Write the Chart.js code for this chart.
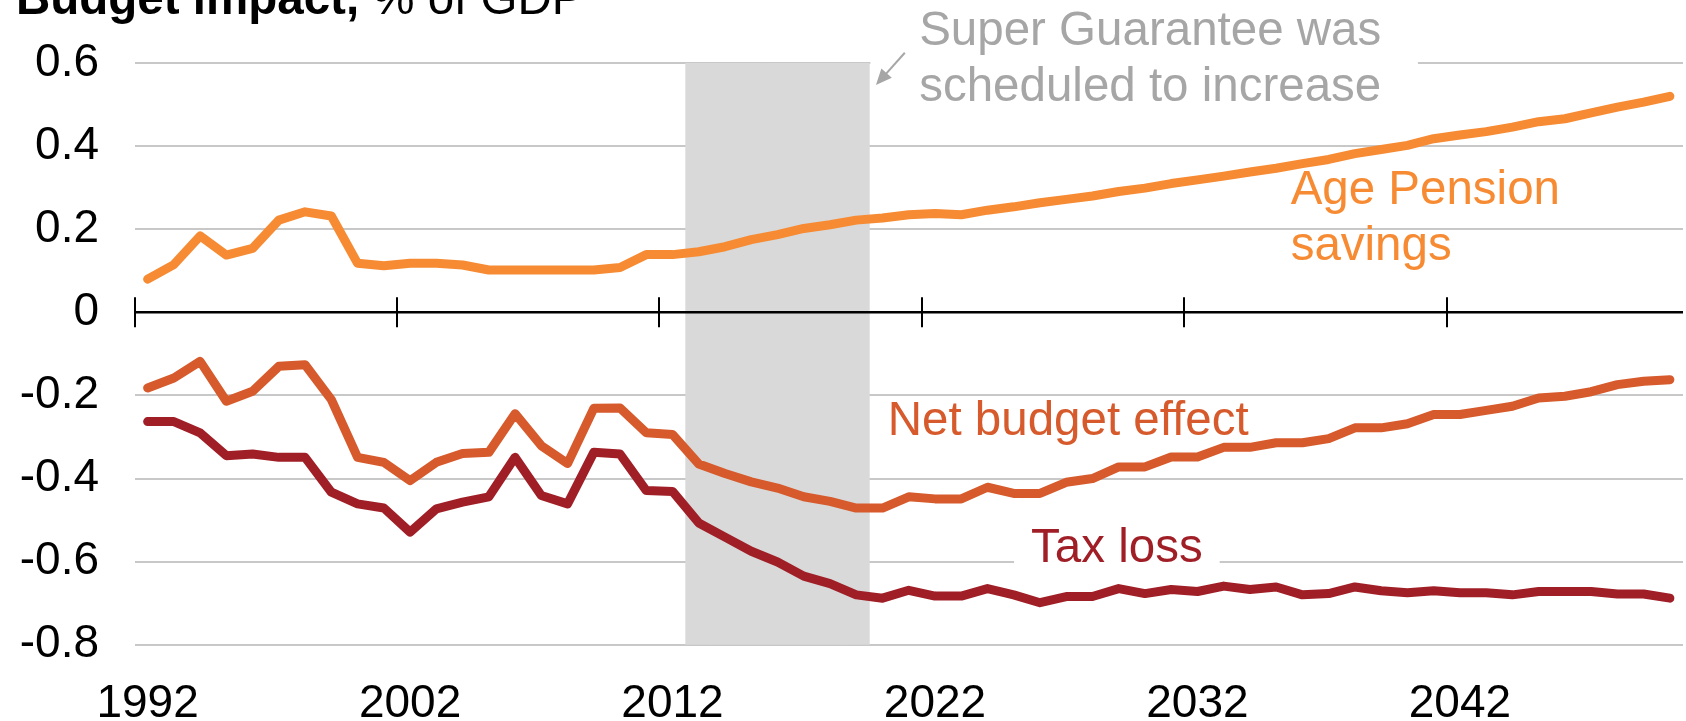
<!DOCTYPE html>
<html>
<head>
<meta charset="utf-8">
<title>Budget impact</title>
<script src="https://cdn.jsdelivr.net/npm/chart.js@4/dist/chart.umd.min.js"></script>
<style>
  html, body { margin: 0; padding: 0; background: #fff; }
  #wrap { width: 1686px; height: 721px; }
</style>
</head>
<body>
<div id="wrap"><canvas id="chart" width="1686" height="721"></canvas></div>
<script>
const years = [];
for (let yr = 1992; yr <= 2050; yr++) years.push(yr);

const xTickLabels = [1992, 2002, 2012, 2022, 2032, 2042];
const yTicks = [0.6, 0.4, 0.2, 0, -0.2, -0.4, -0.6, -0.8];
const shadedYears = [2013, 2014, 2015, 2016, 2017, 2018, 2019];

const agePension = [
  0.080, 0.115, 0.184, 0.138, 0.154, 0.222, 0.242, 0.232, 0.118, 0.112,
  0.118, 0.118, 0.114, 0.102, 0.102, 0.102, 0.102, 0.102, 0.108, 0.139,
  0.139, 0.146, 0.158, 0.175, 0.187, 0.202, 0.211, 0.222, 0.227, 0.235,
  0.238, 0.235, 0.246, 0.254, 0.264, 0.272, 0.280, 0.291, 0.299, 0.310,
  0.319, 0.328, 0.338, 0.347, 0.358, 0.368, 0.382, 0.392, 0.402, 0.418,
  0.427, 0.435, 0.446, 0.459, 0.466, 0.480, 0.494, 0.506, 0.520
];

const netBudget = [
  -0.182, -0.158, -0.118, -0.214, -0.190, -0.130, -0.126, -0.210, -0.349, -0.361,
  -0.405, -0.361, -0.340, -0.337, -0.244, -0.321, -0.364, -0.231, -0.230, -0.290,
  -0.294, -0.365, -0.388, -0.408, -0.423, -0.444, -0.455, -0.471, -0.471, -0.444,
  -0.449, -0.449, -0.421, -0.436, -0.436, -0.409, -0.400, -0.372, -0.372, -0.348,
  -0.348, -0.325, -0.325, -0.314, -0.314, -0.304, -0.278, -0.278, -0.268, -0.246,
  -0.246, -0.236, -0.226, -0.206, -0.202, -0.191, -0.174, -0.166, -0.162
];

const taxLoss = [
  -0.263, -0.263, -0.290, -0.345, -0.341, -0.349, -0.349, -0.433, -0.461, -0.471,
  -0.529, -0.473, -0.457, -0.444, -0.349, -0.441, -0.461, -0.337, -0.341, -0.429,
  -0.431, -0.507, -0.541, -0.575, -0.601, -0.635, -0.653, -0.680, -0.688, -0.669,
  -0.683, -0.683, -0.665, -0.680, -0.699, -0.684, -0.684, -0.665, -0.677, -0.667,
  -0.672, -0.659, -0.667, -0.661, -0.680, -0.677, -0.661, -0.670, -0.675, -0.670,
  -0.675, -0.675, -0.680, -0.672, -0.672, -0.672, -0.678, -0.678, -0.688
];

const FONT = "'Liberation Sans', Arial, sans-serif";
const ORANGE = '#F68B33';
const NET = '#D65A2B';
const TAX = '#A01F27';
const GREY_TEXT = '#A6A6A6';

// shaded band as floating bars spanning the whole y range
const yMin = yTicks[yTicks.length - 1];
const yMax = yTicks[0];
const shadeData = years.map((yr) => (shadedYears.includes(yr) ? [yMin, yMax] : null));

const lineStyle = {
  type: 'line',
  borderWidth: 9,
  pointRadius: 0,
  tension: 0,
  borderCapStyle: 'round',
  borderJoinStyle: 'round',
  fill: false,
};

const overlay = {
  id: 'overlay',
  afterDatasetsDraw(chart) {
    const { ctx, chartArea, scales } = chart;
    const x = scales.x;
    const y = scales.y;
    const step = x.getPixelForValue(1) - x.getPixelForValue(0);
    const y0 = y.getPixelForValue(0);

    ctx.save();
    // zero axis line with tick marks crossing it
    ctx.strokeStyle = '#000';
    ctx.lineWidth = 2.5;
    ctx.beginPath();
    ctx.moveTo(chartArea.left, y0);
    ctx.lineTo(chartArea.right, y0);
    ctx.stroke();
    ctx.lineWidth = 2;
    xTickLabels.forEach((yr) => {
      const px = Math.round(x.getPixelForValue(years.indexOf(yr)) - step / 2);
      ctx.beginPath();
      ctx.moveTo(px, y0 - 15);
      ctx.lineTo(px, y0 + 15);
      ctx.stroke();
    });

    const xAt = (idx) => x.getPixelForValue(idx);
    ctx.font = `47.5px ${FONT}`;
    ctx.textBaseline = 'alphabetic';

    // Age Pension savings
    ctx.fillStyle = ORANGE;
    ctx.textAlign = 'left';
    ctx.fillText('Age Pension', xAt(43.55), y.getPixelForValue(0.262));
    ctx.fillText('savings', xAt(43.55), y.getPixelForValue(0.126));

    // Net budget effect
    ctx.fillStyle = NET;
    ctx.fillText('Net budget effect', xAt(28.2), y.getPixelForValue(-0.296));

    // Tax loss, on a white patch over the gridline
    const taxX = xAt(36.93);
    const taxY = y.getPixelForValue(-0.6);
    const taxW = ctx.measureText('Tax loss').width + 34;
    ctx.fillStyle = '#fff';
    ctx.fillRect(taxX - taxW / 2, taxY - 40, taxW, 46);
    ctx.fillStyle = TAX;
    ctx.textAlign = 'center';
    ctx.fillText('Tax loss', taxX, taxY);

    // annotation for the shaded period, white patch hides the top gridline
    const noteX = xAt(38.2);
    const bandRight = xAt(years.indexOf(shadedYears[shadedYears.length - 1])) + step / 2;
    const patchRight = xAt(48.4);
    ctx.fillStyle = '#fff';
    ctx.fillRect(bandRight + 1, 0, patchRight - bandRight - 1, y.getPixelForValue(0.45));
    ctx.fillStyle = GREY_TEXT;
    ctx.fillText('Super Guarantee was', noteX, y.getPixelForValue(0.643));
    ctx.fillText('scheduled to increase', noteX, y.getPixelForValue(0.508));

    // arrow pointing at the band
    const ax1 = xAt(28.85), ay1 = y.getPixelForValue(0.625);
    const ax2 = xAt(27.75), ay2 = y.getPixelForValue(0.547);
    const ang = Math.atan2(ay2 - ay1, ax2 - ax1);
    ctx.strokeStyle = GREY_TEXT;
    ctx.fillStyle = GREY_TEXT;
    ctx.lineWidth = 2;
    ctx.beginPath();
    ctx.moveTo(ax1, ay1);
    ctx.lineTo(ax2 - 10 * Math.cos(ang), ay2 - 10 * Math.sin(ang));
    ctx.stroke();
    ctx.beginPath();
    ctx.moveTo(ax2, ay2);
    ctx.lineTo(ax2 - 16 * Math.cos(ang) + 7 * Math.sin(ang), ay2 - 16 * Math.sin(ang) - 7 * Math.cos(ang));
    ctx.lineTo(ax2 - 16 * Math.cos(ang) - 7 * Math.sin(ang), ay2 - 16 * Math.sin(ang) + 7 * Math.cos(ang));
    ctx.closePath();
    ctx.fill();

    ctx.restore();
  },
  afterDraw(chart) {
    const { ctx } = chart;
    ctx.save();
    ctx.fillStyle = '#000';
    ctx.textAlign = 'left';
    ctx.textBaseline = 'alphabetic';
    ctx.font = `bold 47.5px ${FONT}`;
    const head = 'Budget impact,';
    ctx.fillText(head, 16, 14);
    const w = ctx.measureText(head).width;
    ctx.font = `47.5px ${FONT}`;
    ctx.fillText(' % of GDP', 16 + w, 14);
    ctx.restore();
  },
};

new Chart(document.getElementById('chart'), {
  type: 'line',
  data: {
    labels: years.map(String),
    datasets: [
      { ...lineStyle, label: 'Age Pension savings', data: agePension, borderColor: ORANGE, order: 1 },
      { ...lineStyle, label: 'Net budget effect', data: netBudget, borderColor: NET, order: 2 },
      { ...lineStyle, label: 'Tax loss', data: taxLoss, borderColor: TAX, order: 3 },
      {
        type: 'bar',
        label: 'Super Guarantee scheduled to increase',
        data: shadeData,
        backgroundColor: '#D9D9D9',
        borderWidth: 0,
        barPercentage: 1,
        categoryPercentage: 1,
        order: 10,
      },
    ],
  },
  options: {
    responsive: false,
    animation: false,
    devicePixelRatio: 1,
    layout: { padding: { left: 10.5, right: 3, top: 51.5, bottom: 0 } },
    plugins: {
      legend: { display: false },
      tooltip: { enabled: false },
      title: { display: false },
    },
    scales: {
      x: {
        type: 'category',
        offset: true,
        grid: { display: false, drawTicks: false },
        border: { display: false },
        ticks: {
          autoSkip: false,
          maxRotation: 0,
          minRotation: 0,
          padding: 37,
          color: '#000',
          font: { family: FONT, size: 46, lineHeight: 1 },
          callback(value, index) {
            const yr = years[index];
            return xTickLabels.includes(yr) ? String(yr) : '';
          },
        },
        afterFit(scale) {
          scale.height = 76.3;
          scale.paddingLeft = 0;
          scale.paddingRight = 0;
        },
      },
      y: {
        min: yMin,
        max: yMax,
        border: { display: false },
        grid: {
          drawTicks: false,
          lineWidth: 2,
          color: (ctx) => (ctx.tick && Math.abs(ctx.tick.value) < 1e-9 ? 'rgba(0,0,0,0)' : '#C8C8C8'),
        },
        afterBuildTicks(scale) {
          scale.ticks = yTicks.slice().reverse().map((v) => ({ value: v }));
        },
        ticks: {
          padding: 35.5,
          color: '#000',
          font: { family: FONT, size: 46 },
          callback: (v) => (Math.abs(v) < 1e-9 ? '0' : String(Math.round(v * 10) / 10)),
        },
        afterFit(scale) { scale.width = 124; },
      },
    },
  },
  plugins: [overlay],
});
</script>
</body>
</html>
